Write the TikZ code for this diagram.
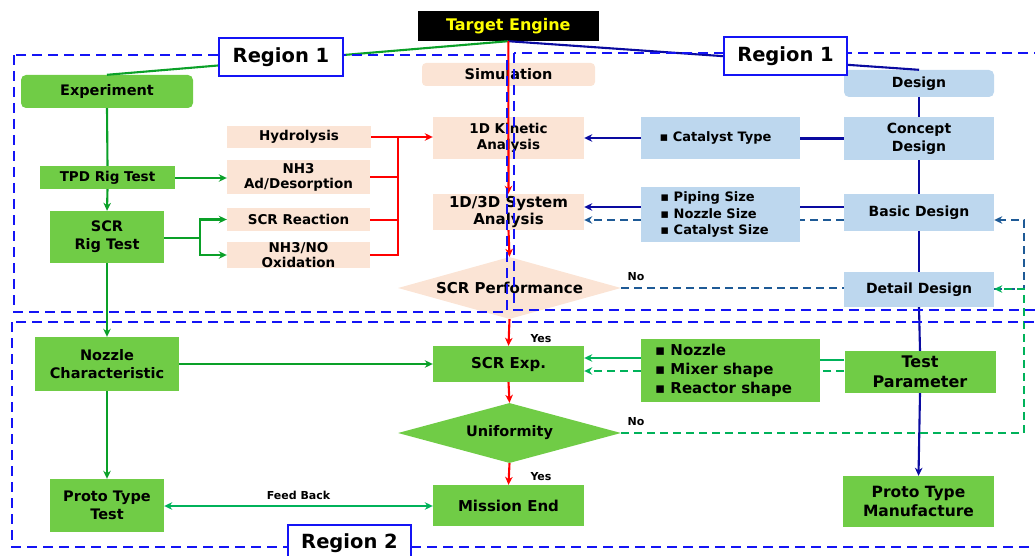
\documentclass[tikz,border=0pt]{standalone}
\usepackage{fontspec}
\setmainfont{DejaVu Sans}
\usetikzlibrary{arrows.meta,shapes.geometric}
\definecolor{gfill}{RGB}{112,204,70}
\definecolor{pfill}{RGB}{251,228,213}
\definecolor{bfill}{RGB}{189,215,238}
\definecolor{navyc}{RGB}{10,10,160}
\definecolor{regc}{RGB}{20,20,245}
\definecolor{dgreen}{RGB}{10,160,40}
\definecolor{mgreen}{RGB}{0,178,90}
\definecolor{steelc}{RGB}{30,90,150}
\definecolor{redc}{RGB}{255,0,0}
\definecolor{yelc}{RGB}{255,255,0}
\tikzset{
  gbox/.style={fill=gfill, inner sep=0pt, align=center},
  pbox/.style={fill=pfill, inner sep=0pt, align=center},
  bbox/.style={fill=bfill, inner sep=0pt, align=center},
  regbox/.style={fill=white, draw=regc, line width=2.2pt, inner sep=0pt, font=\bfseries\fontsize{19.5}{22}\selectfont},
  arr/.style={-{Stealth[length=8pt,width=7.5pt,inset=2.5pt]}},
  darr/.style={{Stealth[length=8pt,width=7.5pt,inset=2.5pt]}-{Stealth[length=8pt,width=7.5pt,inset=2.5pt]}},
  conn/.style={line width=2.1pt},
  regline/.style={draw=regc, line width=2pt, dash pattern=on 10pt off 6pt},
  loopdash/.style={line width=2pt, dash pattern=on 8pt off 5pt},
  lbl/.style={font=\bfseries\fontsize{11}{13}\selectfont, inner sep=0pt},
}
\begin{document}
\begin{tikzpicture}[x=1pt,y=-1pt, font=\bfseries\fontsize{14.5}{18}\selectfont]
\useasboundingbox (0,0) rectangle (1035,556);

% ---- nodes ----
\node[fill=black, text=yelc, minimum width=181pt, minimum height=30pt, inner sep=0pt, font=\bfseries\fontsize{16}{18}\selectfont] (te) at (508.3,26) {Target Engine};

\node[gbox, rounded corners=5pt, minimum width=172pt, minimum height=33pt] (exp) at (107,91.5) {Experiment};
\node[gbox, minimum width=135pt, minimum height=23pt, font=\bfseries\fontsize{13.5}{16}\selectfont] (tpd) at (107.5,177.5) {TPD Rig Test};
\node[gbox, minimum width=114pt, minimum height=52pt] (scrrig) at (107,237) {SCR\\Rig Test};
\node[gbox, minimum width=144pt, minimum height=54pt] (nozc) at (107,364) {Nozzle\\Characteristic};
\node[gbox, minimum width=114pt, minimum height=53pt] (ptt) at (107,505.5) {Proto Type\\Test};

\node[pbox, minimum width=144pt, minimum height=22pt, font=\bfseries\fontsize{13.5}{16}\selectfont] (hyd) at (299,137) {Hydrolysis};
\node[pbox, minimum width=143pt, minimum height=34pt, font=\bfseries\fontsize{13.5}{15}\selectfont] (nh3) at (298.5,177) {NH3\\Ad/Desorption};
\node[pbox, minimum width=143pt, minimum height=23pt, font=\bfseries\fontsize{13.5}{16}\selectfont] (scrr) at (298.5,219.5) {SCR Reaction};
\node[pbox, minimum width=143pt, minimum height=24pt, font=\bfseries\fontsize{13.5}{15}\selectfont] (ox) at (298.5,255) {NH3/NO\\Oxidation};

\node[pbox, rounded corners=4pt, minimum width=173pt, minimum height=23pt] (sim) at (508.5,74.5) {Simulation};
\node[pbox, minimum width=151pt, minimum height=42pt, font=\bfseries\fontsize{13.5}{16.5}\selectfont] (kin) at (508.5,138) {1D Kinetic\\Analysis};
\node[pbox, minimum width=151pt, minimum height=36pt, font=\bfseries\fontsize{15}{17}\selectfont] (sys) at (508.5,212) {1D/3D System\\Analysis};
\node[pbox, shape=diamond, aspect=3.6, minimum width=223pt, minimum height=62pt, inner sep=0pt, font=\bfseries\fontsize{15}{18}\selectfont] (perf) at (509.5,288) {SCR Performance};

\node[gbox, minimum width=151pt, minimum height=36pt, font=\bfseries\fontsize{15}{18}\selectfont] (scrx) at (508.5,364) {SCR Exp.};
\node[gbox, shape=diamond, aspect=3.7, minimum width=223pt, minimum height=60pt, inner sep=0pt] (unif) at (509.5,433) {Uniformity};
\node[gbox, minimum width=151pt, minimum height=41pt, font=\bfseries\fontsize{15}{18}\selectfont] (mend) at (508.5,505.5) {Mission End};

\node[bbox, rounded corners=5pt, minimum width=150pt, minimum height=27pt, font=\bfseries\fontsize{14}{18}\selectfont] (design) at (919,83.5) {Design};
\node[bbox, minimum width=150pt, minimum height=43pt, font=\bfseries\fontsize{14}{18}\selectfont] (concept) at (919,138.5) {Concept\\Design};
\node[bbox, minimum width=150pt, minimum height=37pt, font=\bfseries\fontsize{14}{18}\selectfont] (basic) at (919,212.5) {Basic Design};
\node[bbox, minimum width=150pt, minimum height=35pt, font=\bfseries\fontsize{14}{18}\selectfont] (detail) at (919,289.5) {Detail Design};
\node[bbox, minimum width=159pt, minimum height=42pt, font=\bfseries\fontsize{13}{16}\selectfont] (cat) at (720.5,138) {\hspace*{-10pt}▪ Catalyst Type};
\node[bbox, minimum width=159pt, minimum height=55pt, align=left, font=\bfseries\fontsize{13}{16.5}\selectfont] (pip) at (720.5,214.5) {▪ Piping Size\\▪ Nozzle Size\\▪ Catalyst Size\hspace*{12pt}};

\node[gbox, minimum width=179pt, minimum height=63pt, align=left, font=\bfseries\fontsize{15}{19}\selectfont] (nozb) at (730.5,370.5) {▪ Nozzle\\▪ Mixer shape\\▪ Reactor shape\hspace*{14pt}};
\node[gbox, minimum width=151pt, minimum height=42pt, font=\bfseries\fontsize{16}{20}\selectfont] (tpar) at (920,372) {Test\\Parameter};
\node[gbox, minimum width=151pt, minimum height=51pt, font=\bfseries\fontsize{15.5}{19}\selectfont] (ptm) at (918.5,501.5) {Proto Type\\Manufacture};

% ---- connectors ----
\draw[conn, dgreen] (te.south) -- (exp.north);
\draw[conn, navyc] (te.south) -- (design.north);

\draw[conn, dgreen] (exp.south) -- (tpd.north);
\draw[conn, dgreen, arr] (tpd.south) -- (scrrig.north);
\draw[conn, dgreen, arr] (scrrig.south) -- (nozc.north);
\draw[conn, dgreen, arr] (nozc.south) -- (ptt.north);
\draw[conn, dgreen, arr] (tpd.east |- 0,178) -- (nh3.west |- 0,178);
\coordinate (fk) at (200,238);
\draw[conn, dgreen] (scrrig.east |- fk) -- (fk);
\draw[conn, dgreen, arr] (fk) |- (scrr.west);
\draw[conn, dgreen, arr] (fk) |- (ox.west);
\draw[conn, dgreen, arr] (nozc.east) -- (scrx.west);
\draw[conn, mgreen, darr] (ptt.east |- 0,506) -- node[lbl, above=5pt, text=black] {Feed Back} (mend.west |- 0,506);

\coordinate (br) at (398,137);
\draw[conn, redc, arr] (hyd.east) -- (kin.west |- hyd.east);
\draw[conn, redc] (nh3.east) -| (br);
\draw[conn, redc] (scrr.east |- 0,220) -| (br);
\draw[conn, redc] (ox.east) -| (br);

\draw[conn, redc, arr] (te.south) -- (sys.north);
\draw[conn, redc, arr] (sys.south) -- (perf.north);
\draw[conn, redc, arr] (perf.south) -- (scrx.north);
\draw[conn, redc, arr] (scrx.south) -- (unif.north);
\draw[conn, redc, arr] (unif.south) -- (mend.north);
\node[lbl] (yes1) at (541,339) {Yes};
\node[lbl] (yes2) at (541,477) {Yes};

\draw[conn, navyc] (design.south) -- (concept.north);
\draw[conn, navyc] (concept.south) -- (basic.north);
\draw[conn, navyc] (basic.south) -- (detail.north);
\draw[conn, navyc] (detail.south) -- (tpar.north);
\draw[conn, navyc, arr] (tpar.south) -- (ptm.north);
\draw[conn, navyc] (concept.west) -- (cat.east |- concept.west);
\draw[conn, navyc, arr] (cat.west) -- (kin.east |- cat.west);
\draw[conn, navyc] (basic.west |- 0,207) -- (pip.east |- 0,207);
\draw[conn, navyc, arr] (pip.west |- 0,207) -- (sys.east |- 0,207);
\draw[loopdash, steelc] (basic.west |- 0,220) -- (pip.east |- 0,220);
\draw[loopdash, steelc, arr] (pip.west |- 0,220) -- (sys.east |- 0,220);

\draw[loopdash, steelc] (perf.east) -- (detail.west |- perf.east);
\node[lbl] (no1) at (636,277) {No};
\coordinate (lp) at (1024,289);
\draw[loopdash, steelc, arr] (detail.east |- lp) -- (lp) -- (lp |- 0,220) -- (basic.east |- 0,220);
\draw[loopdash, mgreen, arr] (unif.east) -| (lp) -- (detail.east |- lp);
\node[lbl] (no2) at (636,422) {No};

\draw[conn, mgreen] (tpar.west |- 0,360) -- (nozb.east |- 0,360);
\draw[conn, mgreen, arr] (nozb.west |- 0,358) -- (scrx.east |- 0,358);
\draw[loopdash, mgreen] (tpar.west |- 0,371) -- (nozb.east |- 0,371);
\draw[loopdash, mgreen, arr] (nozb.west |- 0,371) -- (scrx.east |- 0,371);

% ---- regions ----
\draw[regline] (14,55) rectangle (507,312);
\draw[regline] (514,53) rectangle (1050,310);
\draw[regline] (12,322) rectangle (1050,547);

\node[regbox, minimum width=124pt, minimum height=38pt] (r1l) at (281,57) {Region 1};
\node[regbox, minimum width=123pt, minimum height=38pt] (r1r) at (785.5,56) {Region 1};
\node[regbox, minimum width=123pt, minimum height=42pt, anchor=north] (r2) at (349.5,524) {};
\node[font=\bfseries\fontsize{19.5}{22}\selectfont, inner sep=0pt] (r2t) at (349.5,543) {Region 2};
\end{tikzpicture}
\end{document}
